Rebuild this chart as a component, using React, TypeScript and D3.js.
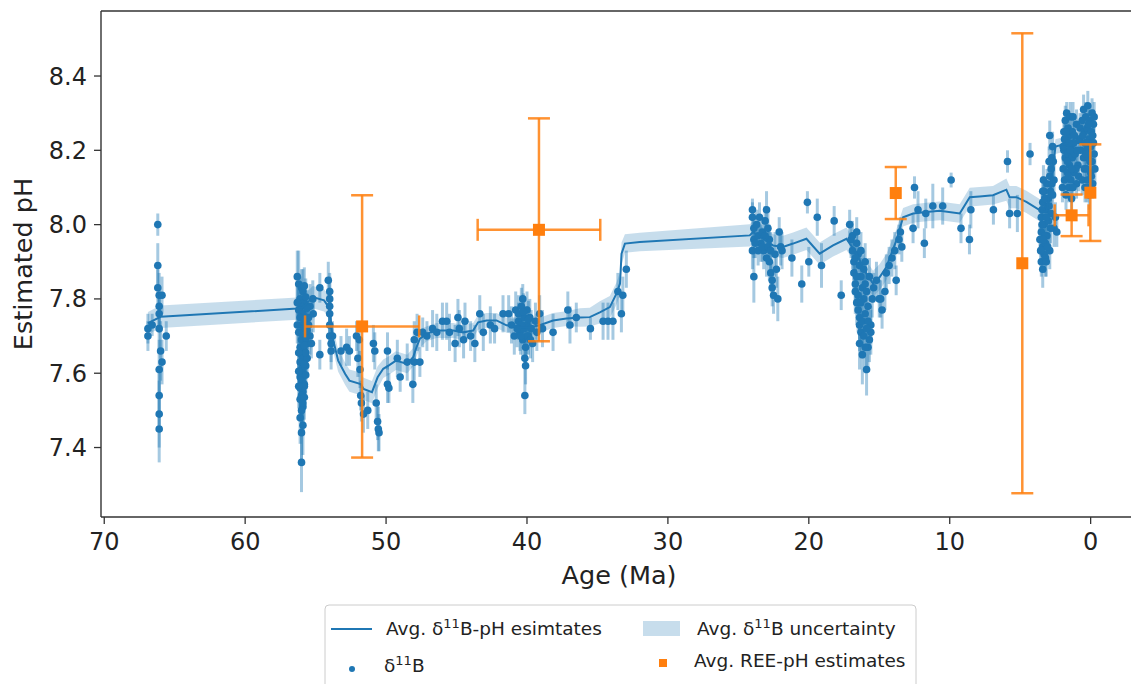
import React from "react";
import * as d3 from "d3";

const W = 1131;
const H = 684;
const ML = 101;
const MR = 1137;
const MT = 11;
const MB = 517;

const xTicks = [70, 60, 50, 40, 30, 20, 10, 0];
const yTicks = [7.4, 7.6, 7.8, 8.0, 8.2, 8.4];

type P = [number, number, number]; // [age Ma, pH, uncertainty]

const kpgPoints: P[] = [
  [66.9, 7.72, 0.04], [66.9, 7.70, 0.04], [66.6, 7.73, 0.03], [66.2, 8.00, 0.03], [66.2, 7.89, 0.06],
  [66.2, 7.83, 0.05], [66.1, 7.81, 0.06], [66.1, 7.78, 0.05], [66.1, 7.76, 0.05], [66.1, 7.72, 0.06],
  [66.0, 7.66, 0.08], [66.1, 7.61, 0.08], [66.1, 7.54, 0.08], [66.1, 7.49, 0.09], [66.1, 7.45, 0.09],
  [65.9, 7.81, 0.05], [65.9, 7.63, 0.06], [65.6, 7.70, 0.04],
];

const petmPoints: P[] = [
  [56.3, 7.86, 0.07], [56.2, 7.84, 0.09], [56.0, 7.83, 0.05], [55.9, 7.82, 0.06], [56.1, 7.80, 0.06],
  [55.8, 7.79, 0.05], [56.0, 7.78, 0.05], [56.2, 7.77, 0.06], [55.9, 7.76, 0.05], [56.1, 7.75, 0.05],
  [55.7, 7.74, 0.05], [56.0, 7.73, 0.06], [55.8, 7.72, 0.05], [56.2, 7.71, 0.05], [55.9, 7.70, 0.06],
  [56.0, 7.69, 0.05], [55.6, 7.68, 0.05], [56.1, 7.67, 0.06], [55.8, 7.66, 0.05], [56.0, 7.65, 0.06],
  [55.9, 7.64, 0.05], [56.1, 7.63, 0.06], [55.7, 7.62, 0.05], [56.0, 7.61, 0.06], [55.9, 7.60, 0.05],
  [56.1, 7.59, 0.06], [56.0, 7.58, 0.05], [55.8, 7.57, 0.06], [56.1, 7.56, 0.06], [55.9, 7.55, 0.05],
  [56.0, 7.54, 0.06], [56.1, 7.53, 0.06], [55.9, 7.51, 0.07], [56.0, 7.50, 0.06], [56.1, 7.48, 0.07],
  [55.9, 7.46, 0.08], [56.0, 7.44, 0.08], [56.0, 7.36, 0.08], [55.5, 7.75, 0.04], [55.4, 7.70, 0.05],
  [55.3, 7.68, 0.04], [55.6, 7.64, 0.05], [55.2, 7.80, 0.05], [55.4, 7.78, 0.06], [55.5, 7.73, 0.05],
  [55.8, 7.835, 0.05], [55.7, 7.805, 0.05], [55.6, 7.775, 0.05], [55.8, 7.745, 0.05], [55.6, 7.715, 0.05],
  [55.7, 7.695, 0.05], [55.8, 7.675, 0.05], [55.7, 7.655, 0.05], [55.8, 7.625, 0.05], [55.7, 7.595, 0.05],
  [55.8, 7.565, 0.05], [55.8, 7.535, 0.06], [55.9, 7.52, 0.06], [56.2, 7.655, 0.05], [56.2, 7.605, 0.05],
  [56.2, 7.565, 0.06], [56.3, 7.73, 0.05], [56.3, 7.79, 0.05],
  [55.17, 7.76, 0.05], [54.7, 7.83, 0.04], [54.7, 7.65, 0.04], [54.1, 7.85, 0.05], [54.0, 7.82, 0.05],
  [54.0, 7.80, 0.06], [54.0, 7.78, 0.05], [54.0, 7.76, 0.05], [54.0, 7.73, 0.06], [54.0, 7.70, 0.05],
  [53.9, 7.68, 0.05], [53.9, 7.66, 0.05], [53.8, 7.70, 0.04],
];

const earlyEocenePoints: P[] = [
  [53.2, 7.66, 0.04], [52.8, 7.67, 0.05], [52.6, 7.66, 0.04], [52.1, 7.70, 0.04], [52.0, 7.64, 0.05],
  [51.9, 7.69, 0.05], [51.85, 7.61, 0.05], [51.8, 7.54, 0.04], [51.75, 7.52, 0.05], [51.6, 7.49, 0.05],
  [51.3, 7.50, 0.05], [50.9, 7.68, 0.05], [50.8, 7.66, 0.05], [50.7, 7.52, 0.05], [50.6, 7.47, 0.05],
  [50.55, 7.45, 0.06], [50.5, 7.44, 0.05], [49.9, 7.66, 0.05], [49.9, 7.57, 0.05], [49.8, 7.56, 0.04],
  [49.2, 7.64, 0.05], [49.0, 7.59, 0.04], [48.5, 7.63, 0.05], [48.1, 7.57, 0.05], [48.0, 7.69, 0.05],
  [48.0, 7.63, 0.05], [47.8, 7.71, 0.05], [47.6, 7.63, 0.04],
];

const midEocenePoints: P[] = [
  [47.4, 7.71, 0.04], [47.1, 7.70, 0.04], [46.7, 7.72, 0.05], [46.4, 7.71, 0.05], [46.0, 7.74, 0.05],
  [45.7, 7.74, 0.05], [45.5, 7.71, 0.05], [45.1, 7.68, 0.05], [44.9, 7.75, 0.05], [44.8, 7.72, 0.05],
  [44.5, 7.69, 0.05], [44.4, 7.74, 0.05], [44.0, 7.70, 0.04], [43.7, 7.68, 0.05], [43.35, 7.76, 0.05],
  [43.1, 7.71, 0.05], [42.6, 7.73, 0.05], [42.3, 7.72, 0.04], [41.7, 7.76, 0.05], [41.3, 7.76, 0.05],
  [41.1, 7.73, 0.05], [40.9, 7.70, 0.05], [40.8, 7.77, 0.05], [40.6, 7.74, 0.05], [40.5, 7.71, 0.05],
  [40.4, 7.78, 0.05], [40.3, 7.80, 0.04], [40.3, 7.69, 0.05], [40.2, 7.75, 0.05], [40.2, 7.72, 0.05],
  [40.15, 7.64, 0.05], [40.1, 7.67, 0.05], [40.1, 7.62, 0.05], [40.15, 7.54, 0.05], [40.0, 7.77, 0.05],
  [40.0, 7.73, 0.05], [39.9, 7.70, 0.05], [39.8, 7.75, 0.05], [39.7, 7.72, 0.05], [39.6, 7.68, 0.05],
  [40.6, 7.76, 0.05], [40.4, 7.73, 0.05], [40.25, 7.765, 0.05], [40.0, 7.70, 0.05], [39.9, 7.745, 0.05],
  [40.45, 7.70, 0.05], [40.7, 7.72, 0.05], [39.75, 7.69, 0.05],
  [39.4, 7.74, 0.05], [39.3, 7.71, 0.05], [39.1, 7.76, 0.05], [38.9, 7.72, 0.05], [38.15, 7.71, 0.05],
  [37.1, 7.77, 0.05], [36.95, 7.73, 0.05], [36.5, 7.75, 0.04], [35.5, 7.72, 0.03], [34.6, 7.74, 0.05],
  [34.25, 7.74, 0.05], [33.9, 7.74, 0.05], [33.55, 7.82, 0.05], [33.3, 7.76, 0.05], [33.2, 7.81, 0.05],
  [32.95, 7.88, 0.05],
];

const mioceneEarlyPoints: P[] = [
  [24.0, 8.04, 0.03], [24.0, 8.02, 0.04], [23.9, 7.99, 0.04], [23.9, 7.96, 0.05], [24.0, 7.93, 0.05],
  [23.9, 7.86, 0.07], [23.7, 8.00, 0.04], [23.6, 7.97, 0.04], [23.5, 8.02, 0.04], [23.4, 7.95, 0.05],
  [23.3, 7.98, 0.04], [23.2, 7.93, 0.05], [23.1, 8.01, 0.04], [23.0, 8.04, 0.05], [22.9, 7.99, 0.05],
  [22.8, 7.96, 0.04], [22.8, 7.90, 0.05], [22.7, 7.87, 0.05], [22.6, 7.85, 0.05], [22.6, 7.83, 0.05],
  [22.5, 7.81, 0.05], [22.4, 7.92, 0.06], [22.3, 7.88, 0.05], [22.2, 7.80, 0.06], [22.1, 7.98, 0.04],
  [23.8, 7.95, 0.04], [23.6, 7.93, 0.04], [23.3, 7.94, 0.04], [23.1, 7.97, 0.04], [22.9, 7.94, 0.04],
  [23.0, 7.91, 0.05], [22.7, 7.93, 0.05],
  [22.0, 7.94, 0.05], [21.9, 7.93, 0.05], [21.2, 7.91, 0.05], [20.5, 7.84, 0.05], [20.1, 8.06, 0.03],
  [20.0, 7.90, 0.04], [19.4, 8.02, 0.05], [19.1, 7.89, 0.06], [18.2, 8.01, 0.04], [17.7, 7.81, 0.04],
];

const mmcoPoints: P[] = [
  [17.1, 8.00, 0.04], [17.0, 7.96, 0.05], [16.9, 7.93, 0.05], [16.8, 7.90, 0.05], [16.8, 7.87, 0.06],
  [16.7, 7.84, 0.05], [16.7, 7.82, 0.06], [16.6, 7.95, 0.04], [16.6, 7.79, 0.06], [16.5, 7.77, 0.06],
  [16.5, 7.92, 0.05], [16.4, 7.89, 0.05], [16.4, 7.73, 0.07], [16.4, 7.68, 0.07], [16.3, 7.71, 0.07],
  [16.3, 7.86, 0.05], [16.2, 7.83, 0.05], [16.2, 7.65, 0.08], [16.1, 7.80, 0.05], [16.1, 7.88, 0.05],
  [16.0, 7.76, 0.06], [16.0, 7.84, 0.05], [15.9, 7.61, 0.07], [15.9, 7.82, 0.05], [15.8, 7.67, 0.06],
  [15.8, 7.78, 0.05], [15.7, 7.69, 0.06], [15.7, 7.86, 0.05], [15.6, 7.71, 0.06], [15.6, 7.73, 0.05],
  [16.9, 7.97, 0.04], [16.7, 7.91, 0.05], [16.6, 7.86, 0.05], [16.5, 7.81, 0.05], [16.4, 7.75, 0.06],
  [16.3, 7.79, 0.05], [16.2, 7.74, 0.06], [16.1, 7.70, 0.06], [16.0, 7.67, 0.07], [15.9, 7.72, 0.06],
  [15.8, 7.74, 0.05], [16.6, 7.98, 0.04], [16.3, 7.93, 0.05], [16.0, 7.90, 0.05],
  [15.5, 7.80, 0.05], [15.4, 7.83, 0.04], [15.2, 7.85, 0.05], [15.0, 7.80, 0.05], [14.9, 7.80, 0.05],
  [14.8, 7.77, 0.05], [14.6, 7.82, 0.05], [14.5, 7.87, 0.05], [14.3, 7.89, 0.05], [14.1, 7.91, 0.05],
  [13.9, 7.93, 0.05], [13.8, 7.85, 0.04], [13.6, 7.96, 0.04], [13.5, 7.98, 0.04], [13.4, 7.94, 0.04],
];

const lateMiocenePoints: P[] = [
  [12.6, 7.99, 0.04], [12.5, 8.10, 0.03], [12.25, 8.04, 0.05], [11.8, 7.95, 0.04], [11.7, 8.03, 0.04],
  [11.2, 8.05, 0.06], [10.5, 8.05, 0.05], [9.9, 8.12, 0.02], [9.2, 7.99, 0.04], [8.6, 7.96, 0.04],
  [8.5, 8.04, 0.05], [6.9, 8.04, 0.04], [5.9, 8.17, 0.03], [5.75, 8.03, 0.04], [5.2, 8.03, 0.05],
  [4.3, 8.19, 0.03],
];

const plioPoints: P[] = [
  [3.6, 7.96, 0.04], [3.5, 7.98, 0.04], [3.5, 8.02, 0.04], [3.4, 7.94, 0.05], [3.4, 8.06, 0.04],
  [3.3, 7.92, 0.05], [3.3, 8.00, 0.04], [3.3, 8.09, 0.04], [3.2, 7.95, 0.04], [3.2, 8.04, 0.04],
  [3.1, 7.97, 0.05], [3.1, 8.11, 0.04], [3.0, 8.01, 0.05], [3.0, 8.07, 0.04], [2.9, 7.93, 0.05],
  [2.9, 8.13, 0.05], [2.8, 8.03, 0.04], [2.8, 8.15, 0.04], [2.7, 8.08, 0.04], [2.6, 8.12, 0.05],
  [2.6, 7.99, 0.05], [3.5, 7.90, 0.04], [3.4, 7.88, 0.05], [3.2, 7.91, 0.05], [2.75, 8.18, 0.04],
  [2.9, 8.24, 0.04], [2.5, 8.02, 0.04], [2.4, 7.98, 0.04], [3.45, 8.04, 0.04], [3.25, 7.97, 0.04],
  [3.05, 8.05, 0.04], [2.85, 8.09, 0.04], [2.65, 8.17, 0.04], [3.35, 8.12, 0.04],
  [3.55, 7.93, 0.04], [3.45, 8.00, 0.04], [3.35, 7.96, 0.04], [3.15, 8.02, 0.04], [3.05, 7.94, 0.04],
  [2.95, 8.05, 0.04], [2.85, 7.99, 0.04], [2.75, 8.11, 0.04], [2.7, 8.21, 0.04], [3.25, 8.07, 0.04],
  [3.15, 7.90, 0.04], [2.95, 8.17, 0.04], [3.4, 8.09, 0.04],
];

const pleistPoints: P[] = [
  [2.0, 8.10, 0.04], [1.95, 8.15, 0.04], [1.9, 8.20, 0.04], [1.9, 8.25, 0.04], [1.85, 8.12, 0.04],
  [1.8, 8.28, 0.04], [1.8, 8.18, 0.04], [1.75, 8.08, 0.04], [1.7, 8.22, 0.04], [1.7, 8.30, 0.03],
  [1.65, 8.14, 0.04], [1.6, 8.26, 0.04], [1.6, 8.19, 0.04], [1.55, 8.10, 0.04], [1.5, 8.24, 0.04],
  [1.5, 8.16, 0.04], [1.45, 8.29, 0.04], [1.4, 8.21, 0.04], [1.4, 8.12, 0.04], [1.35, 8.07, 0.04],
  [1.3, 8.18, 0.04], [1.3, 8.25, 0.04], [1.2, 8.22, 0.04], [1.2, 8.14, 0.04], [1.1, 8.19, 0.04],
  [1.0, 8.27, 0.04], [1.0, 8.11, 0.04], [0.9, 8.16, 0.04], [0.8, 8.23, 0.04], [0.7, 8.20, 0.04],
  [1.85, 8.23, 0.04], [1.65, 8.17, 0.04], [1.45, 8.20, 0.04], [1.25, 8.29, 0.04], [1.05, 8.15, 0.04],
  [1.95, 8.21, 0.04], [1.75, 8.25, 0.04], [1.55, 8.22, 0.04], [1.35, 8.15, 0.04], [1.15, 8.24, 0.04],
  [0.95, 8.20, 0.04], [0.85, 8.13, 0.04], [0.75, 8.26, 0.04], [1.6, 8.13, 0.04], [1.25, 8.10, 0.04],
  [0.6, 8.12, 0.04], [0.5, 8.31, 0.04], [0.5, 8.18, 0.04], [0.45, 8.25, 0.04], [0.4, 8.10, 0.04],
  [0.4, 8.22, 0.04], [0.35, 8.29, 0.04], [0.3, 8.15, 0.04], [0.3, 8.20, 0.04], [0.25, 8.26, 0.04],
  [0.2, 8.12, 0.04], [0.2, 8.32, 0.04], [0.15, 8.18, 0.04], [0.1, 8.23, 0.04], [0.1, 8.08, 0.04],
  [0.05, 8.28, 0.04], [0.0, 8.14, 0.04], [0.0, 8.21, 0.04], [-0.05, 8.25, 0.04], [-0.1, 8.17, 0.04],
  [-0.1, 8.30, 0.04], [-0.15, 8.11, 0.04], [-0.2, 8.22, 0.04], [-0.2, 8.27, 0.04], [-0.25, 8.19, 0.04],
  [-0.3, 8.15, 0.04], [0.55, 8.24, 0.04], [0.25, 8.10, 0.04], [-0.05, 8.13, 0.04],
  [0.45, 8.15, 0.04], [0.35, 8.19, 0.04], [0.15, 8.27, 0.04], [0.05, 8.17, 0.04], [-0.15, 8.24, 0.04],
  [0.6, 8.28, 0.04], [0.2, 8.22, 0.04], [-0.25, 8.29, 0.04],
];

const avgAge = [
  66.9, 66.0, 56.3, 55.9, 55.2, 54.4, 54.0, 53.8, 53.4, 52.9, 52.6, 51.8, 51.6, 51.0, 50.6, 50.2,
  49.8, 49.3, 48.5, 48.08, 47.84, 47.6, 47.13, 46.42, 45.24, 44.53, 43.82, 43.47, 42.87, 42.16,
  41.45, 40.5, 39.8, 39.1, 38.15, 37.2, 36.25, 35.54, 34.83, 34.12, 33.65, 33.4, 33.29, 33.05,
  31.99, 24.19, 23.96, 22.54, 21.83, 21.12, 20.17, 19.23, 18.28, 17.33, 16.62, 15.91, 15.44, 14.97,
  14.49, 13.78, 13.31, 12.6, 11.66, 10.71, 9.29, 8.58, 7.88, 6.93, 5.98, 5.75, 5.27, 4.56, 3.62,
  3.14, 2.75, 2.5, 1.5, 0.8, 0.0,
];
const avgPH = [
  7.735, 7.752, 7.774, 7.778, 7.805, 7.796, 7.774, 7.697, 7.634, 7.598, 7.58, 7.571, 7.558, 7.549,
  7.589, 7.612, 7.621, 7.634, 7.625, 7.643, 7.67, 7.693, 7.706, 7.715, 7.715, 7.71, 7.715, 7.737,
  7.742, 7.742, 7.729, 7.724, 7.724, 7.729, 7.742, 7.747, 7.75, 7.751, 7.764, 7.778, 7.814, 7.841,
  7.922, 7.949, 7.953, 7.971, 7.98, 7.944, 7.94, 7.949, 7.962, 7.922, 7.944, 7.962, 7.922, 7.868,
  7.841, 7.859, 7.886, 7.958, 8.02, 8.03, 8.034, 8.037, 8.03, 8.074, 8.076, 8.079, 8.094, 8.074,
  8.074, 8.061, 8.039, 8.034, 8.12, 8.21, 8.22, 8.22, 8.22,
];
const avgUnc = [
  0.03, 0.03, 0.03, 0.03, 0.03, 0.03, 0.03, 0.03, 0.03, 0.03, 0.03, 0.03, 0.03, 0.03,
  0.03, 0.025, 0.025, 0.025, 0.025, 0.025, 0.025, 0.025, 0.02, 0.02, 0.02, 0.02, 0.02, 0.02,
  0.02, 0.02, 0.02, 0.02, 0.02, 0.02, 0.02, 0.02, 0.025, 0.025, 0.03, 0.03, 0.03, 0.03,
  0.03, 0.025, 0.025, 0.03, 0.03, 0.03, 0.03, 0.03, 0.03, 0.03, 0.03, 0.03, 0.03, 0.035,
  0.035, 0.035, 0.035, 0.03, 0.025, 0.025, 0.025, 0.025, 0.025, 0.025, 0.025, 0.025, 0.03, 0.03,
  0.03, 0.03, 0.03, 0.03, 0.025, 0.02, 0.02, 0.02, 0.02,
];

const reeAge = [51.7, 39.15, 13.83, 4.85, 1.35, 0.02];
const reeAgeErr = [4.05, 4.35, 0, 0, 1.2, 0];
const reePH = [7.726, 7.986, 8.085, 7.896, 8.025, 8.086];
const reePHErr = [0.353, 0.3, 0.07, 0.619, 0.056, 0.13];

const allBoron: P[] = [
  ...kpgPoints, ...petmPoints, ...earlyEocenePoints, ...midEocenePoints,
  ...mioceneEarlyPoints, ...mmcoPoints, ...lateMiocenePoints, ...plioPoints, ...pleistPoints,
];

const BLUE = "#1f77b4";
const ORANGE = "#ff7f0e";
const FONT = "DejaVu Sans, sans-serif";

export default function App() {
  const x = d3.scaleLinear().domain([70.23, -3.29]).range([ML, MR]);
  const y = d3.scaleLinear().domain([7.213, 8.575]).range([MB, MT]);

  const idx = d3.range(avgAge.length);
  const area = d3
    .area<number>()
    .x((i) => x(avgAge[i]))
    .y0((i) => y(avgPH[i] - avgUnc[i]))
    .y1((i) => y(avgPH[i] + avgUnc[i]));
  const line = d3
    .line<number>()
    .x((i) => x(avgAge[i]))
    .y((i) => y(avgPH[i]));

  const cap = 11;

  return (
    <svg width={W} height={H} style={{ display: "block", position: "absolute", left: 0, top: 0 }} fontFamily={FONT}>
      <rect x={0} y={0} width={W} height={H} fill="#fff" />
      <defs>
        <clipPath id="plot">
          <rect x={ML} y={MT} width={MR - ML} height={MB - MT} />
        </clipPath>
      </defs>
      <g clipPath="url(#plot)">
        <path d={area(idx) || ""} fill={BLUE} fillOpacity={0.25} stroke="none" />
        <g stroke={BLUE} strokeOpacity={0.4} strokeWidth={3}>
          {allBoron.map((p, i) => (
            <line key={i} x1={x(p[0])} x2={x(p[0])} y1={y(p[1] - p[2])} y2={y(p[1] + p[2])} />
          ))}
        </g>
        <g fill={BLUE}>
          {allBoron.map((p, i) => (
            <circle key={i} cx={x(p[0])} cy={y(p[1])} r={3.8} />
          ))}
        </g>
        <path d={line(idx) || ""} fill="none" stroke={BLUE} strokeWidth={2} />
        <g stroke={ORANGE} strokeOpacity={0.85} strokeWidth={2.5}>
          {reeAge.map((a, i) => (
            <g key={i}>
              <line x1={x(a)} x2={x(a)} y1={y(reePH[i] - reePHErr[i])} y2={y(reePH[i] + reePHErr[i])} />
              <line x1={x(a) - cap} x2={x(a) + cap} y1={y(reePH[i] - reePHErr[i])} y2={y(reePH[i] - reePHErr[i])} />
              <line x1={x(a) - cap} x2={x(a) + cap} y1={y(reePH[i] + reePHErr[i])} y2={y(reePH[i] + reePHErr[i])} />
              {reeAgeErr[i] > 0 && (
                <>
                  <line x1={x(a - reeAgeErr[i])} x2={x(a + reeAgeErr[i])} y1={y(reePH[i])} y2={y(reePH[i])} />
                  <line x1={x(a - reeAgeErr[i])} x2={x(a - reeAgeErr[i])} y1={y(reePH[i]) - cap} y2={y(reePH[i]) + cap} />
                  <line x1={x(a + reeAgeErr[i])} x2={x(a + reeAgeErr[i])} y1={y(reePH[i]) - cap} y2={y(reePH[i]) + cap} />
                </>
              )}
            </g>
          ))}
        </g>
        <g fill={ORANGE}>
          {reeAge.map((a, i) => (
            <rect key={i} x={x(a) - 6} y={y(reePH[i]) - 6} width={12} height={12} />
          ))}
        </g>
      </g>

      {/* spines */}
      <g stroke="#333" strokeWidth={1.4} fill="none">
        <line x1={ML} x2={ML} y1={MT} y2={MB} />
        <line x1={ML} x2={MR} y1={MB} y2={MB} />
        <line x1={ML} x2={MR} y1={MT} y2={MT} />
        <line x1={MR} x2={MR} y1={MT} y2={MB} />
      </g>

      {/* x ticks */}
      {xTicks.map((t) => (
        <g key={t}>
          <line x1={x(t)} x2={x(t)} y1={MB} y2={MB + 7} stroke="#333" strokeWidth={1.3} />
          <text x={x(t)} y={550} textAnchor="middle" fontSize={24} fill="#222">
            {t}
          </text>
        </g>
      ))}
      {/* y ticks */}
      {yTicks.map((t) => (
        <g key={t}>
          <line x1={ML - 7} x2={ML} y1={y(t)} y2={y(t)} stroke="#333" strokeWidth={1.3} />
          <text x={87} y={y(t) + 8.5} textAnchor="end" fontSize={24} fill="#222">
            {t.toFixed(1)}
          </text>
        </g>
      ))}

      <text x={(ML + MR) / 2} y={584} textAnchor="middle" fontSize={25.5} fill="#222">
        Age (Ma)
      </text>
      <text transform={`translate(32, ${(MT + MB) / 2}) rotate(-90)`} textAnchor="middle" fontSize={25.5} fill="#222">
        Estimated pH
      </text>

      {/* legend */}
      <g>
        <rect x={325} y={605} width={591} height={110} rx={4} fill="#fff" fillOpacity={0.8} stroke="#cccccc" strokeWidth={1} />
        <line x1={331} x2={372} y1={629} y2={629} stroke={BLUE} strokeWidth={2} />
        <text x={386} y={635} fontSize={18.5} fill="#222">
          Avg. δ<tspan dy={-7} fontSize={13}>11</tspan>
          <tspan dy={7}>B-pH esimtates</tspan>
        </text>
        <rect x={643} y={621} width={37} height={15} fill={BLUE} fillOpacity={0.25} />
        <text x={697} y={635} fontSize={18.5} fill="#222">
          Avg. δ<tspan dy={-7} fontSize={13}>11</tspan>
          <tspan dy={7}>B uncertainty</tspan>
        </text>
        <circle cx={352} cy={669} r={3} fill={BLUE} />
        <text x={384} y={672} fontSize={18.5} fill="#222">
          δ<tspan dy={-7} fontSize={13}>11</tspan>
          <tspan dy={7}>B</tspan>
        </text>
        <rect x={659} y={659} width={8} height={8} fill={ORANGE} />
        <text x={694} y={667} fontSize={18.5} fill="#222">
          Avg. REE-pH estimates
        </text>
      </g>
    </svg>
  );
}
